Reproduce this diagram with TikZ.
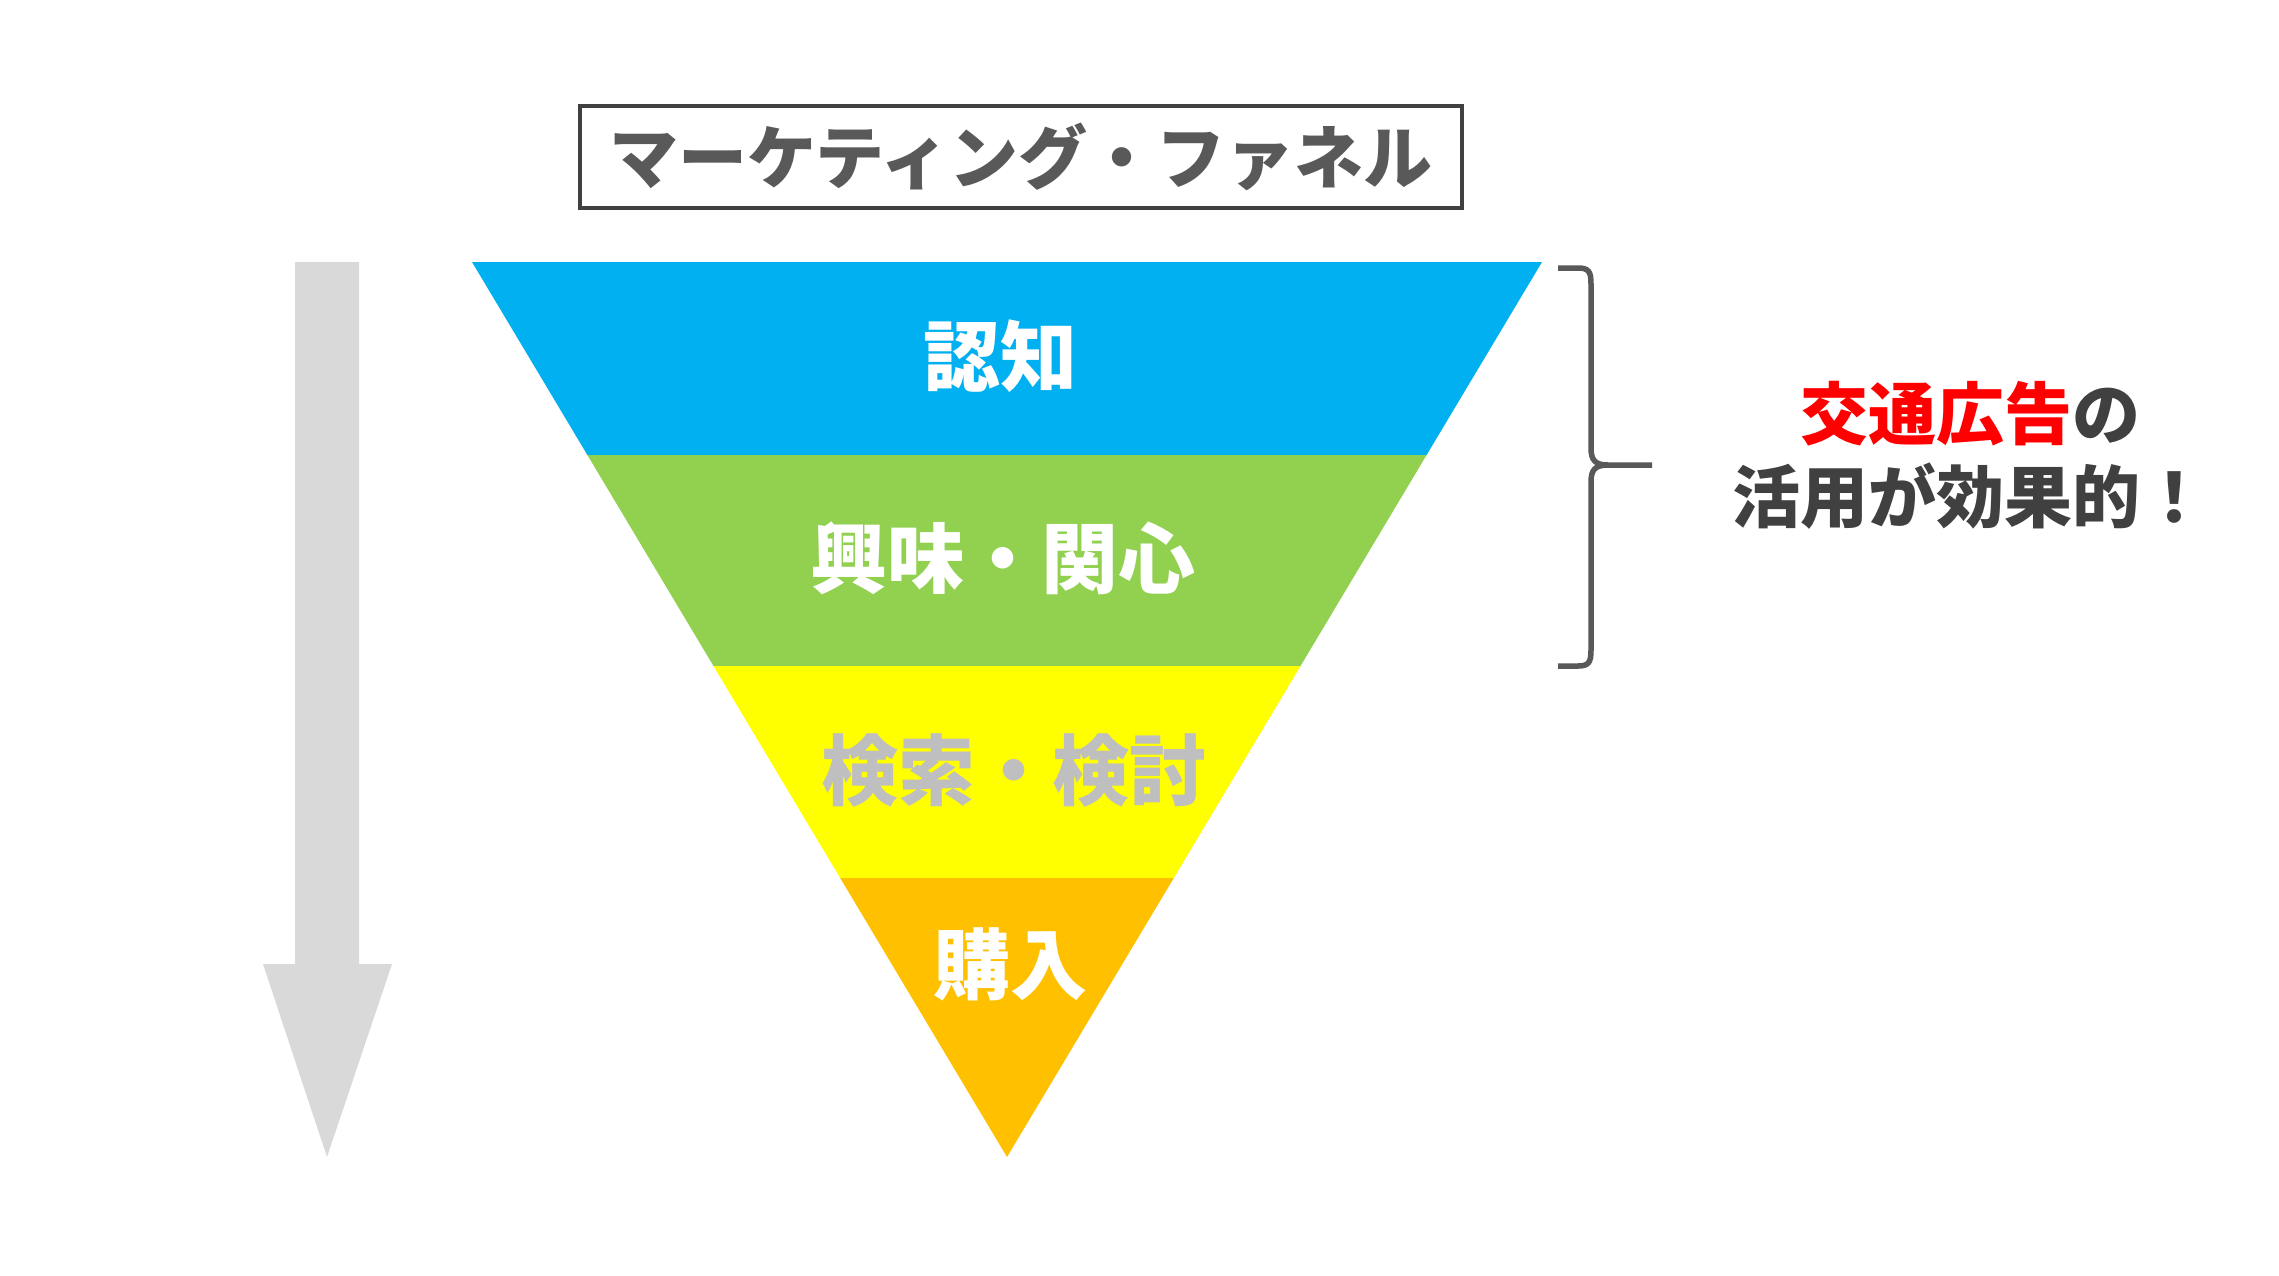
\documentclass[tikz,border=0pt]{standalone}
\usepackage{fontspec}
\newfontfamily\jp{Noto Sans CJK JP}
\definecolor{fblue}{HTML}{00B0F0}
\definecolor{fgreen}{HTML}{92D050}
\definecolor{fyellow}{HTML}{FFFF00}
\definecolor{forange}{HTML}{FFC000}
\definecolor{agray}{HTML}{D9D9D9}
\definecolor{tgray}{HTML}{595959}
\definecolor{dgray}{HTML}{404040}
\definecolor{lgray}{HTML}{BFBFBF}
\begin{document}
\begin{tikzpicture}[x=1pt,y=-1pt,
  bandlabel/.style={font=\jp\bfseries\fontsize{77}{80}\selectfont, inner sep=0pt, anchor=center},
  sidetext/.style={font=\jp\bfseries\fontsize{68}{83}\selectfont, text=dgray, align=center, inner sep=0pt},
  titlebox/.style={draw=dgray, line width=4.5pt, minimum width=882pt, minimum height=102pt, inner sep=0pt,
    text=tgray, font=\jp\bfseries\fontsize{69}{72}\selectfont}]
\useasboundingbox (0,0) rectangle (2279,1275);
\fill[white] (0,0) rectangle (2279,1275);
% down arrow
\fill[agray] (295,262) -- (359,262) -- (359,964) -- (392,964) -- (327,1157) -- (263,964) -- (295,964) -- cycle;
% funnel bands
\fill[fblue] (472,262) -- (1542,262) -- (1426.6,455) -- (587.4,455) -- cycle;
\fill[fgreen] (587.4,455) -- (1426.6,455) -- (1300.5,666) -- (713.5,666) -- cycle;
\fill[fyellow] (713.5,666) -- (1300.5,666) -- (1173.8,878) -- (840.2,878) -- cycle;
\fill[forange] (840.2,878) -- (1173.8,878) -- (1007,1157) -- cycle;
% labels
\node[bandlabel, text=white] (ninchi) at (1000,356) {認知};
\node[bandlabel, text=white] (kyomi) at (1003,558) {興味・関心};
\node[bandlabel, text=lgray] (kensaku) at (1014,770) {検索・検討};
\node[bandlabel, text=white] (konyu) at (1010,964) {購入};
% title
\node[titlebox] (title) at (1021,157) {マーケティング・ファネル};
% brace
\draw[tgray, line width=5.5pt]
  (1558,268) -- (1578,268) .. controls (1589,268) and (1591,272) .. (1591,284)
  -- (1591,448) .. controls (1591,460) and (1595,465) .. (1608,465) -- (1652,465);
\draw[tgray, line width=5.5pt]
  (1608,465) .. controls (1595,465) and (1591,470) .. (1591,482)
  -- (1591,650) .. controls (1591,662) and (1589,666) .. (1578,666) -- (1558,666);
% side text
\node[sidetext] (side) at (1970,455) {\textcolor{red}{交通広告}の\\活用が効果的！};
\end{tikzpicture}
\end{document}
